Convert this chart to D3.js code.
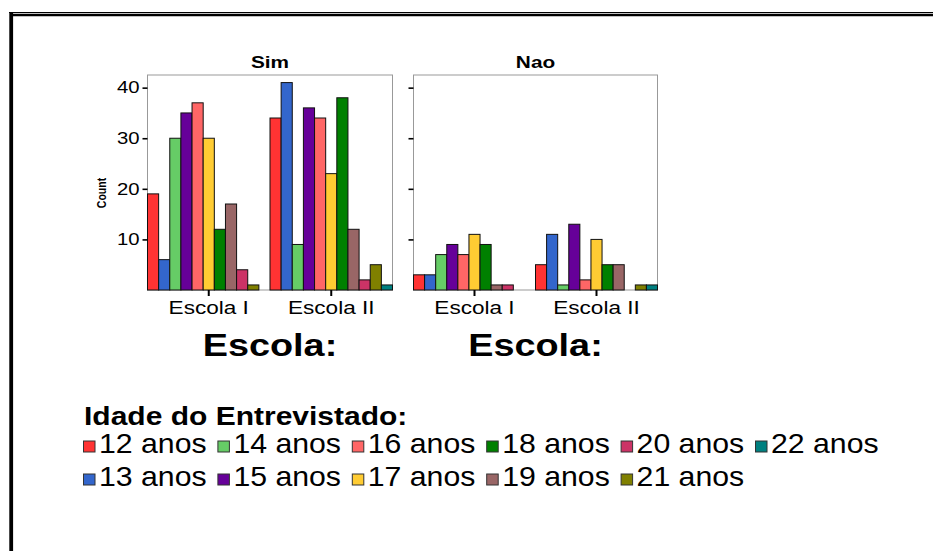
<!DOCTYPE html>
<html>
<head>
<meta charset="utf-8">
<script src="https://cdn.jsdelivr.net/npm/d3@7"></script>
<style>
  html, body { margin: 0; padding: 0; background: #fff; }
  svg { display: block; font-family: "Liberation Sans", Arial, sans-serif; }
</style>
</head>
<body>
<svg id="chart" width="933" height="551"></svg>
<script>
// Age groups (legend order) and school categories
const ages = ["12 anos", "13 anos", "14 anos", "15 anos", "16 anos", "17 anos",
              "18 anos", "19 anos", "20 anos", "21 anos", "22 anos"];
const escolas = ["Escola I", "Escola II"];
const panels = ["Sim", "Nao"];

// Counts per age, for each panel and school
const simEscolaI  = [19, 6, 30, 35, 37, 30, 12, 17, 4, 1, 0];
const simEscolaII = [34, 41, 9, 36, 34, 23, 38, 12, 2, 5, 1];
const naoEscolaI  = [3, 3, 7, 9, 7, 11, 9, 1, 1, 0, 0];
const naoEscolaII = [5, 11, 1, 13, 2, 10, 5, 5, 0, 1, 1];

const yTicks = [10, 20, 30, 40];
const yMax = 42.5;

const palette = ["#ff3333", "#3366cc", "#66cc66", "#660099", "#ff6666", "#ffcc33",
                 "#008000", "#996666", "#cc3366", "#808000", "#008080"];

const panelData = {
  "Sim": [simEscolaI, simEscolaII],
  "Nao": [naoEscolaI, naoEscolaII]
};

const svg = d3.select("#chart");
const FONT = "'Liberation Sans', Arial, sans-serif";
const SX = 1.27; // horizontal stretch of the lettering

// text helper: stretched horizontally around its anchor point
function label(g, x, y, str, size, opts = {}) {
  const sx = opts.sx ?? SX;
  return g.append("text")
    .attr("transform", `translate(${x},${y}) scale(${sx},1)`)
    .attr("text-anchor", opts.anchor || "start")
    .attr("font-size", size)
    .attr("font-weight", opts.bold ? "bold" : "normal")
    .attr("font-family", FONT)
    .attr("fill", "#000")
    .text(str);
}

// outer frame (double line on top, heavy line on the left)
svg.append("line").attr("x1", 9).attr("x2", 933).attr("y1", 12.5).attr("y2", 12.5)
  .attr("stroke", "#000").attr("stroke-width", 1.2);
svg.append("line").attr("x1", 11).attr("x2", 933).attr("y1", 15).attr("y2", 15)
  .attr("stroke", "#000").attr("stroke-width", 2.6);
svg.append("line").attr("x1", 11.2).attr("x2", 11.2).attr("y1", 12).attr("y2", 551)
  .attr("stroke", "#000").attr("stroke-width", 3.8);

// panel geometry
const panelX = { "Sim": [147.5, 392.5], "Nao": [413.5, 657.5] };
const plotTop = 75, plotBottom = 290;

const y = d3.scaleLinear().domain([0, yMax]).range([plotBottom, plotTop]);

panels.forEach((p, pi) => {
  const [x0, x1] = panelX[p];
  const g = svg.append("g");

  const xOuter = d3.scaleBand().domain(escolas).range([x0, x1]).padding(0);
  const xInner = d3.scaleBand().domain(ages).range([0, xOuter.bandwidth()]).padding(0);

  // frame
  g.append("rect").attr("x", x0).attr("y", plotTop)
    .attr("width", x1 - x0).attr("height", plotBottom - plotTop)
    .attr("fill", "none").attr("stroke", "#999").attr("stroke-width", 1);

  // bars
  escolas.forEach((e, ei) => {
    const vals = panelData[p][ei];
    g.append("g").selectAll("rect")
      .data(ages.map((a, i) => ({ age: a, v: vals[i], c: palette[i] })).filter(d => d.v > 0))
      .join("rect")
      .attr("x", d => xOuter(e) + xInner(d.age))
      .attr("y", d => y(d.v))
      .attr("width", xInner.bandwidth())
      .attr("height", d => y(0) - y(d.v))
      .attr("fill", d => d.c)
      .attr("stroke", "#111")
      .attr("stroke-width", 1);
  });

  // y ticks (labels only on the first panel)
  const yAxis = d3.axisLeft(y).tickValues(yTicks).tickSize(5).tickFormat("");
  const ya = g.append("g").attr("transform", `translate(${x0},0)`).call(yAxis);
  ya.select(".domain").remove();
  ya.selectAll(".tick line").attr("stroke", "#000").attr("stroke-width", 1.6);
  ya.selectAll(".tick text").remove();
  if (pi === 0) {
    yTicks.forEach(t => label(g, x0 - 8, y(t) + 5.8, String(t), 16, { anchor: "end" }));
  }

  // x ticks at school centres
  const xAxis = d3.axisBottom(xOuter).tickSize(6).tickFormat("");
  const xa = g.append("g").attr("transform", `translate(0,${plotBottom})`).call(xAxis);
  xa.select(".domain").remove();
  xa.selectAll(".tick line").attr("stroke", "#000").attr("stroke-width", 2);
  xa.selectAll(".tick text").remove();
  escolas.forEach(e => {
    label(g, xOuter(e) + xOuter.bandwidth() / 2, 314, e, 18.5, { anchor: "middle", sx: 1.22 });
  });

  // panel title and axis title
  const cx = (x0 + x1) / 2;
  label(g, cx, 68, p, 16, { anchor: "middle", bold: true, sx: 1.3 });
  label(g, cx, 355.5, "Escola:", 31.5, { anchor: "middle", bold: true, sx: 1.2 });
});

// y axis title
svg.append("text")
  .attr("transform", "translate(106,193) scale(1.27,1) rotate(-90)")
  .attr("text-anchor", "middle")
  .attr("font-size", 10.5)
  .attr("font-weight", "bold")
  .attr("font-family", FONT)
  .text("Count");

// legend
const lg = svg.append("g");
label(lg, 84, 425, "Idade do Entrevistado:", 25, { bold: true, sx: 1.2 });
const colStep = 134.4, rowY = [440.5, 473.5];
ages.forEach((a, i) => {
  const col = Math.floor(i / 2), row = i % 2;
  const sx0 = 83 + col * colStep;
  lg.append("rect").attr("x", sx0 + 0.5).attr("y", rowY[row] + 0.5)
    .attr("width", 11.5).attr("height", 11)
    .attr("fill", palette[i]).attr("stroke", "#333").attr("stroke-width", 1);
  label(lg, sx0 + 16, rowY[row] + 12.5, a, 28, { sx: 1.08 });
});
</script>
</body>
</html>
